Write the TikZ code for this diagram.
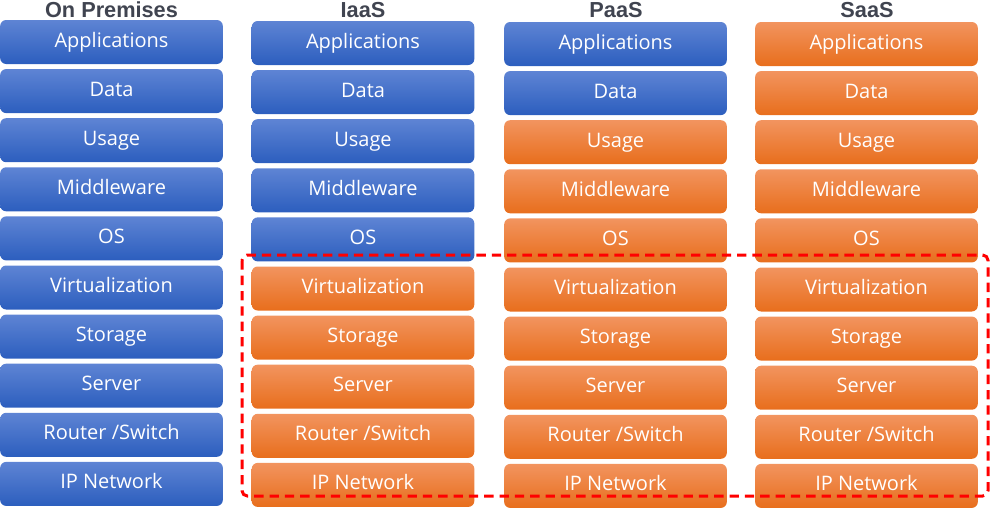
\documentclass[tikz,border=0pt]{standalone}
\usepackage{fontspec}
\setmainfont{Open Sans}
\newfontfamily\headfont{Liberation Sans}
\definecolor{bluetop}{RGB}{94,132,212}
\definecolor{bluebot}{RGB}{44,94,190}
\definecolor{orangetop}{RGB}{242,148,95}
\definecolor{orangebot}{RGB}{232,110,28}
\definecolor{headgray}{RGB}{64,68,80}
\definecolor{dashred}{RGB}{255,0,0}
\begin{document}
\begin{tikzpicture}[x=0.75pt,y=-0.75pt,
  layer/.style={rounded corners=4.5pt, minimum width=167pt, minimum height=33pt,
    inner sep=0pt, text=white, font=\fontsize{15}{18}\selectfont,
    text height=0.86em, text depth=0.1em},
  bluelayer/.style={layer, top color=bluetop, bottom color=bluebot},
  orangelayer/.style={layer, top color=orangetop, bottom color=orangebot},
  head/.style={text=headgray, font=\headfont\bfseries\fontsize{16.3}{19}\selectfont, inner sep=0pt}
]
\useasboundingbox (0,0) rectangle (1000,508);
\node[head] (h1) at (111.5,10) {On Premises};
\node[head] (h2) at (363,10) {IaaS};
\node[head] (h3) at (616,10) {PaaS};
\node[head] (h4) at (867,10) {SaaS};
\foreach \c/\cx/\ty/\nb in {1/111.5/20/10, 2/363/21/5, 3/615.5/22/2, 4/866.5/22/0} {
  \foreach \lab [count=\r] in {Applications,Data,Usage,Middleware,OS,Virtualization,Storage,Server,{Router /Switch},IP Network} {
    \pgfmathsetmacro\yy{\ty+22+49.1*(\r-1)}
    \ifnum\r>\nb
      \node[orangelayer] (c\c r\r) at (\cx,\yy) {\lab};
    \else
      \node[bluelayer] (c\c r\r) at (\cx,\yy) {\lab};
    \fi
  }
}
\draw[dashred, line width=2.25pt, dash pattern=on 7pt off 4.5pt, rounded corners=4pt]
  (242,255) rectangle (988,496);
\end{tikzpicture}
\end{document}
